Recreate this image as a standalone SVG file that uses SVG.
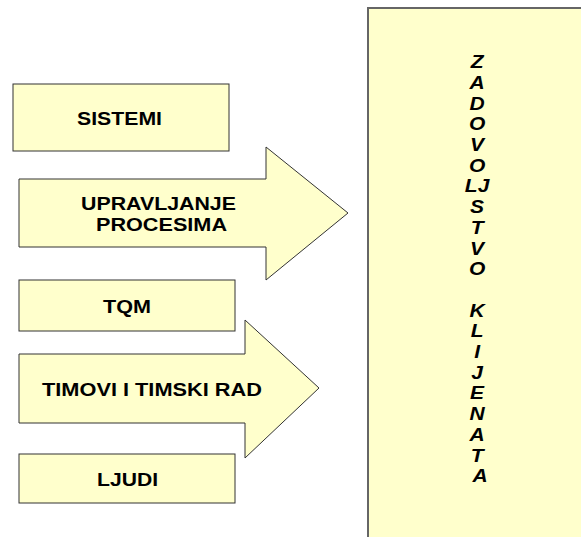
<svg xmlns="http://www.w3.org/2000/svg" width="581" height="537" viewBox="0 0 581 537">
  <style>
    .shape { fill: #FFFFCC; stroke: #333333; stroke-width: 1; }
    .panel { fill: #FFFFCC; stroke: #666666; stroke-width: 2; }
    .lbl { font-family: "Liberation Sans", Arial, sans-serif; font-weight: bold; font-size: 17.5px; fill: #000000; }
    .vert { font-family: "Liberation Sans", Arial, sans-serif; font-weight: bold; font-style: italic; font-size: 17.5px; fill: #000000; text-anchor: middle; }
  </style>
  <rect width="581" height="537" fill="#FFFFFF"/>

  <!-- right-hand panel with the vertical caption -->
  <g id="zadovoljstvo">
    <rect class="panel" x="368" y="8" width="230" height="540"/>
    <text class="vert" transform="translate(480 0) scale(1.2 1) translate(-480 0)">
      <tspan x="480" y="68.3">Z</tspan>
      <tspan x="480" dy="20.7">A</tspan>
      <tspan x="480" dy="20.7">D</tspan>
      <tspan x="480" dy="20.7">O</tspan>
      <tspan x="480" dy="20.7">V</tspan>
      <tspan x="480" dy="20.7">O</tspan>
      <tspan x="480" dy="20.7">LJ</tspan>
      <tspan x="480" dy="20.7">S</tspan>
      <tspan x="480" dy="20.7">T</tspan>
      <tspan x="480" dy="20.7">V</tspan>
      <tspan x="480" dy="20.7">O</tspan>
      <tspan x="480" dy="41.4">K</tspan>
      <tspan x="480" dy="20.7">L</tspan>
      <tspan x="480" dy="20.7">I</tspan>
      <tspan x="480" dy="20.7">J</tspan>
      <tspan x="480" dy="20.7">E</tspan>
      <tspan x="480" dy="20.7">N</tspan>
      <tspan x="480" dy="20.7">A</tspan>
      <tspan x="480" dy="20.7">T</tspan>
      <tspan x="480" dy="20.7">A</tspan>
    </text>
  </g>

  <g id="sistemi">
    <rect class="shape" x="13" y="84" width="216" height="67"/>
    <text class="lbl" x="77" y="125" textLength="85" lengthAdjust="spacingAndGlyphs">SISTEMI</text>
  </g>

  <g id="upravljanje-procesima">
    <polygon class="shape" points="19,179 266,179 266,147 348,213 266,280 266,247 19,247"/>
    <text class="lbl" x="81" y="210" textLength="155" lengthAdjust="spacingAndGlyphs">UPRAVLJANJE</text>
    <text class="lbl" x="96" y="230.7" textLength="131" lengthAdjust="spacingAndGlyphs">PROCESIMA</text>
  </g>

  <g id="tqm">
    <rect class="shape" x="19" y="280" width="216" height="51"/>
    <text class="lbl" x="103" y="313" textLength="48" lengthAdjust="spacingAndGlyphs">TQM</text>
  </g>

  <g id="timovi">
    <polygon class="shape" points="19,354 245,354 245,320 319,388 245,458 245,423 19,423"/>
    <text class="lbl" x="42" y="396" textLength="220" lengthAdjust="spacingAndGlyphs">TIMOVI I TIMSKI RAD</text>
  </g>

  <g id="ljudi">
    <rect class="shape" x="19" y="454" width="216" height="49"/>
    <text class="lbl" x="97" y="486" textLength="61" lengthAdjust="spacingAndGlyphs">LJUDI</text>
  </g>

  <g id="connectors"></g>
</svg>
